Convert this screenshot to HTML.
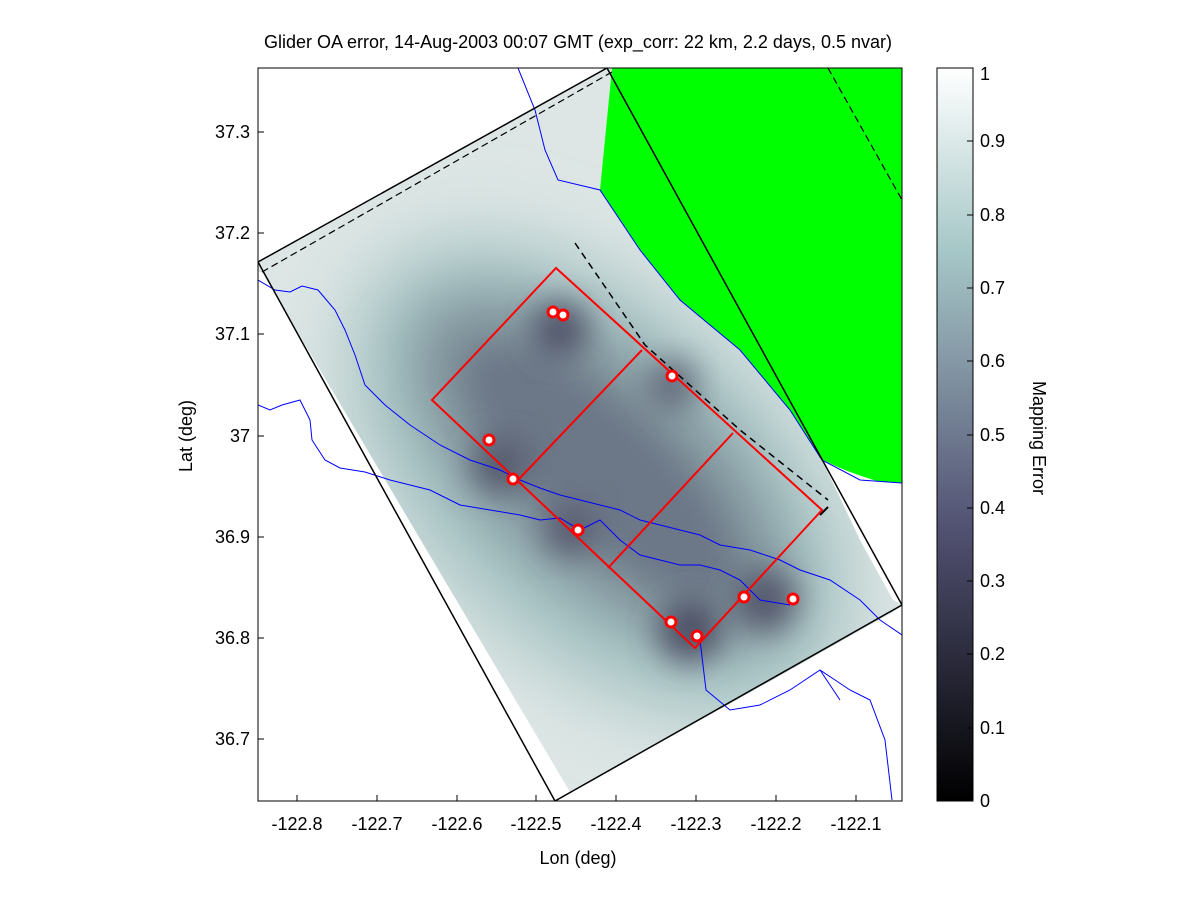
<!DOCTYPE html>
<html><head><meta charset="utf-8"><style>
body{margin:0;background:#fff;}
svg{display:block;font-family:"Liberation Sans",sans-serif;}
</style></head><body>
<svg width="1200" height="900" viewBox="0 0 1200 900" xmlns="http://www.w3.org/2000/svg">
<defs>
<filter id="b1" x="-50%" y="-50%" width="200%" height="200%"><feGaussianBlur stdDeviation="40"/></filter>
<filter id="b3" x="-50%" y="-50%" width="200%" height="200%"><feGaussianBlur stdDeviation="32"/></filter>
<filter id="b2" x="-50%" y="-50%" width="200%" height="200%"><feGaussianBlur stdDeviation="16"/></filter>
<clipPath id="dc"><polygon points="258,262 258,272 262,272 570,792 585,785 893,612 902,605 893,600 860,540 822,460 790,410 740,350 680,300 640,250 600,190 612,68 607,68"/></clipPath>
<clipPath id="ax"><rect x="258" y="68" width="644" height="733"/></clipPath>
<linearGradient id="cb" x1="0" y1="1" x2="0" y2="0">
<stop offset="0" stop-color="#000"/><stop offset="0.375" stop-color="#525273"/><stop offset="0.75" stop-color="#a6c7c7"/><stop offset="1" stop-color="#fff"/>
</linearGradient>
</defs>
<rect x="258" y="68" width="644" height="733" fill="#fff"/>
<g clip-path="url(#dc)">
<rect x="250" y="60" width="660" height="750" fill="#dde6e5"/>
<ellipse cx="600" cy="480" rx="300" ry="175" fill="#a4c2c2" transform="rotate(42 600 480)" filter="url(#b1)"/>
<ellipse cx="600" cy="470" rx="230" ry="105" fill="#7a8b95" transform="rotate(42 600 470)" filter="url(#b3)"/>
<ellipse cx="600" cy="470" rx="170" ry="60" fill="#6c7787" transform="rotate(42 600 470)" filter="url(#b2)"/>
<circle cx="560" cy="330" r="28" fill="#4f5167" filter="url(#b2)"/>
<circle cx="500" cy="465" r="28" fill="#55586c" filter="url(#b2)"/>
<circle cx="570" cy="530" r="25" fill="#56596d" filter="url(#b2)"/>
<circle cx="690" cy="630" r="32" fill="#4d4f65" filter="url(#b2)"/>
<circle cx="765" cy="600" r="32" fill="#55586c" filter="url(#b2)"/>
<circle cx="672" cy="385" r="24" fill="#5e6476" filter="url(#b2)"/>
</g>
<g clip-path="url(#ax)">
<path d="M612,68 L902,68 L902,483 L880,482 Q840,470 820,458 L790,410 L740,350 L680,300 L640,250 L600,190 Z" fill="#00ff00"/>
<g fill="none" stroke="#0000ff" stroke-width="1">
<polyline points="518,68 535,110 545,150 558,180 600,190 640,250 680,300 740,350 790,410 822,460 860,480 902,483"/>
<polyline points="258,280 275,290 290,292 302,286 318,290 335,310 345,330 355,355 365,385 385,405 410,425 440,445 470,460 500,470 520,480 540,488 560,495 580,500 600,505 620,510 640,520 660,525 680,530 700,535 720,545 750,550 780,560 800,570 830,580 860,600 880,620 902,635"/>
<polyline points="258,405 270,410 282,405 300,400 310,420 312,440 325,460 340,468 365,472 390,480 410,485 430,490 460,505 490,510 520,515 540,520 560,518 580,530 600,520 620,540 640,555 660,560 680,565 700,565 720,570 740,580 760,600 790,605"/>
<polyline points="700,640 706,690 730,710 760,705 790,690 820,670 850,690 870,700 885,740 892,800"/>
<polyline points="820,670 840,700"/>
</g>
<polygon points="258,262 607,68 902,605 555,801" fill="none" stroke="#000" stroke-width="1.5"/>
<line x1="262" y1="272" x2="612" y2="72" stroke="#000" stroke-width="1.2" stroke-dasharray="7,4"/>
<line x1="828" y1="68" x2="902" y2="200" stroke="#000" stroke-width="1.2" stroke-dasharray="7,4"/>
<polyline points="575,243 645,345 740,430 828,500" fill="none" stroke="#000" stroke-width="1.5" stroke-dasharray="7,5"/>
<line x1="828" y1="507" x2="820" y2="515" stroke="#000" stroke-width="2"/>
<g fill="none" stroke="#ff0000" stroke-width="2">
<polygon points="432,400 556,268 822,510 695,648"/>
<line x1="518" y1="480" x2="642" y2="350"/>
<line x1="608" y1="568" x2="733" y2="433"/>
</g>
<g fill="#fff" stroke="#ff0000" stroke-width="3">
<circle cx="553" cy="312" r="5"/><circle cx="563" cy="315" r="5"/><circle cx="672" cy="376" r="5"/>
<circle cx="489" cy="440" r="5"/><circle cx="513" cy="479" r="5"/><circle cx="578" cy="530" r="5"/>
<circle cx="671" cy="622" r="5"/><circle cx="697" cy="636" r="5"/><circle cx="744" cy="597" r="5"/><circle cx="793" cy="599" r="5"/>
</g>
</g>
<rect x="258" y="68" width="644" height="733" fill="none" stroke="#000" stroke-width="1"/>
<g stroke="#000" stroke-width="1">
<line x1="297" y1="801" x2="297" y2="795"/><line x1="377" y1="801" x2="377" y2="795"/><line x1="457" y1="801" x2="457" y2="795"/><line x1="536" y1="801" x2="536" y2="795"/><line x1="616" y1="801" x2="616" y2="795"/><line x1="696" y1="801" x2="696" y2="795"/><line x1="776" y1="801" x2="776" y2="795"/><line x1="856" y1="801" x2="856" y2="795"/>
<line x1="258" y1="132" x2="264" y2="132"/><line x1="258" y1="233" x2="264" y2="233"/><line x1="258" y1="334" x2="264" y2="334"/><line x1="258" y1="436" x2="264" y2="436"/><line x1="258" y1="537" x2="264" y2="537"/><line x1="258" y1="638" x2="264" y2="638"/><line x1="258" y1="739" x2="264" y2="739"/>
</g>
<g font-size="18" fill="#000" text-anchor="middle">
<text x="297" y="830">-122.8</text><text x="377" y="830">-122.7</text><text x="457" y="830">-122.6</text><text x="536" y="830">-122.5</text><text x="616" y="830">-122.4</text><text x="696" y="830">-122.3</text><text x="776" y="830">-122.2</text><text x="856" y="830">-122.1</text>
</g>
<g font-size="18" fill="#000" text-anchor="end">
<text x="250" y="138">37.3</text><text x="250" y="239">37.2</text><text x="250" y="340">37.1</text><text x="250" y="442">37</text><text x="250" y="543">36.9</text><text x="250" y="644">36.8</text><text x="250" y="745">36.7</text>
</g>
<text x="578" y="864" font-size="18" text-anchor="middle">Lon (deg)</text>
<text x="192" y="436" font-size="18" text-anchor="middle" transform="rotate(-90 192 436)">Lat (deg)</text>
<text x="578" y="48" font-size="18" text-anchor="middle">Glider OA error, 14-Aug-2003 00:07 GMT (exp_corr: 22 km, 2.2 days, 0.5 nvar)</text>
<rect x="937" y="68" width="36" height="733" fill="url(#cb)" stroke="#000" stroke-width="1"/>
<g stroke="#000" stroke-width="1">
<line x1="967" y1="141" x2="973" y2="141"/><line x1="967" y1="215" x2="973" y2="215"/><line x1="967" y1="288" x2="973" y2="288"/><line x1="967" y1="361" x2="973" y2="361"/><line x1="967" y1="435" x2="973" y2="435"/><line x1="967" y1="508" x2="973" y2="508"/><line x1="967" y1="581" x2="973" y2="581"/><line x1="967" y1="654" x2="973" y2="654"/><line x1="967" y1="728" x2="973" y2="728"/>
</g>
<g font-size="18" fill="#000">
<text x="980" y="807">0</text><text x="980" y="734">0.1</text><text x="980" y="660">0.2</text><text x="980" y="587">0.3</text><text x="980" y="514">0.4</text><text x="980" y="441">0.5</text><text x="980" y="367">0.6</text><text x="980" y="294">0.7</text><text x="980" y="221">0.8</text><text x="980" y="147">0.9</text><text x="980" y="80">1</text>
</g>
<text x="1033" y="438" font-size="18" text-anchor="middle" transform="rotate(90 1033 438)">Mapping Error</text>
</svg>
</body></html>
